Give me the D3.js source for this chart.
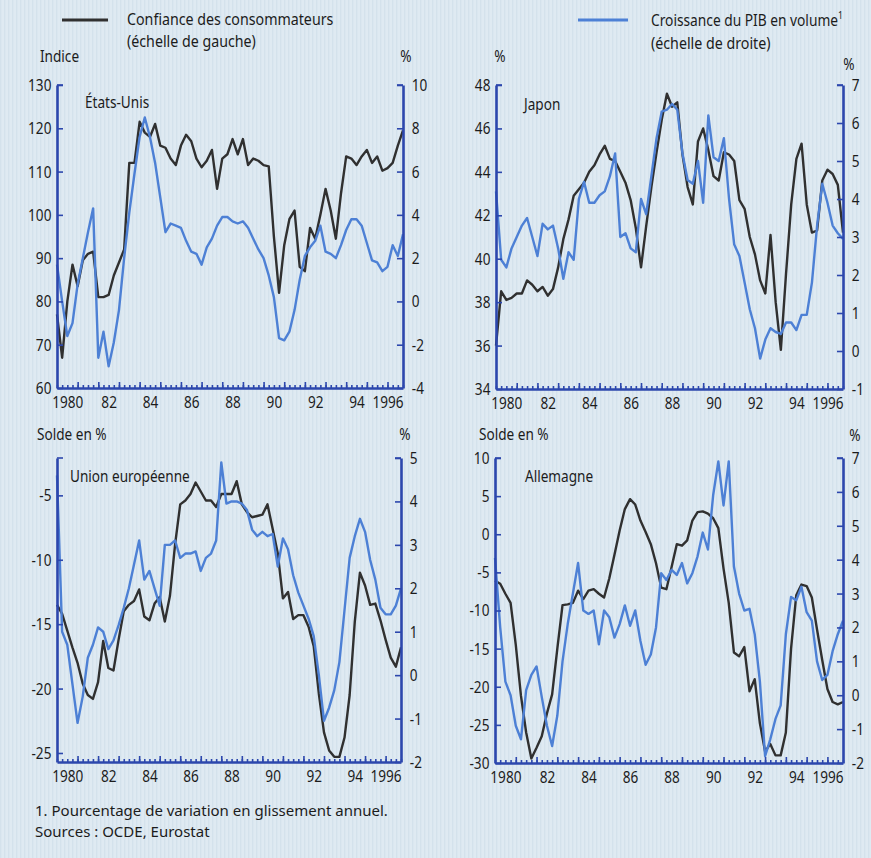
<!DOCTYPE html>
<html>
<head>
<meta charset="utf-8">
<script src="https://cdn.jsdelivr.net/npm/d3@7"></script>
<style>
	body { margin: 0; background: #dde9f1; }
	svg text { font-family: "Noto Sans", "Open Sans", sans-serif; fill: #1c1c1c; }
</style>
</head>
<body>
<svg id="chart"></svg>
<script>
const FIRST_YEAR = 1980;
const LAST_YEAR = 1996.75;
const YEAR_LABELS = ["1980", "82", "84", "86", "88", "90", "92", "94", "1996"];
const YEAR_LABEL_AT = [1980, 1982, 1984, 1986, 1988, 1990, 1992, 1994, 1996];

// Quarterly values, 1980 Q1 to 1996 Q4
const US_CONFIDENCE = [77, 67, 80, 88.5, 83.5, 89.5, 91, 91.5, 81, 81,
	81.5, 86, 89, 92, 112, 112, 121.5, 119, 118, 121,
	116, 115.5, 113, 111.5, 116, 118.5, 117, 113, 111, 112.5,
	115, 106, 113, 114, 117.5, 114, 117.5, 111.5, 113, 112.5,
	111.5, 111.2, 95, 82, 93, 99, 101, 88, 87, 97,
	94.5, 100, 106, 101, 94.5, 105, 113.5, 113, 111.5, 113.5,
	115, 112, 113.5, 110.2, 110.8, 112, 116, 119.5];
const US_GDP = [1.7, 0.0, -1.6, -1.0, 0.8, 2.0, 3.2, 4.3, -2.6, -1.4,
	-3.0, -1.9, -0.4, 2.0, 4.1, 5.9, 7.6, 8.5, 7.6, 6.4,
	4.8, 3.2, 3.6, 3.5, 3.4, 2.8, 2.3, 2.2, 1.7, 2.5,
	2.9, 3.5, 3.9, 3.9, 3.7, 3.6, 3.7, 3.4, 2.9, 2.4,
	2.0, 1.2, 0.2, -1.7, -1.8, -1.4, -0.4, 1.0, 2.1, 2.5,
	2.8, 3.5, 2.3, 2.2, 2.0, 2.6, 3.3, 3.8, 3.8, 3.5,
	2.7, 1.9, 1.8, 1.4, 1.6, 2.6, 2.1, 3.1];

const JP_CONFIDENCE = [36.0, 38.5, 38.1, 38.2, 38.4, 38.4, 39.0, 38.8, 38.5, 38.7,
	38.3, 38.6, 39.6, 40.9, 41.8, 42.9, 43.2, 43.5, 44.0, 44.3,
	44.8, 45.2, 44.6, 44.5, 44.0, 43.5, 42.7, 41.4, 39.6, 41.5,
	43.3, 44.9, 46.4, 47.6, 47.0, 47.2, 44.8, 43.3, 42.5, 45.4,
	46.0, 45.0, 43.8, 43.6, 44.9, 44.8, 44.5, 42.7, 42.3, 41.0,
	40.2, 39.0, 38.4, 41.1, 38.0, 35.8, 39.3, 42.5, 44.6, 45.3,
	42.5, 41.2, 41.3, 43.6, 44.1, 43.9, 43.4, 41.2];
const JP_GDP = [4.2, 2.4, 2.2, 2.7, 3.0, 3.3, 3.5, 3.0, 2.5, 3.35,
	3.2, 3.3, 2.7, 1.9, 2.6, 2.4, 4.0, 4.45, 3.9, 3.9,
	4.1, 4.2, 4.6, 5.2, 3.0, 3.1, 2.7, 2.6, 4.0, 3.6,
	4.6, 5.6, 6.3, 6.35, 6.5, 6.35, 5.2, 4.5, 4.4, 5.0,
	3.9, 6.2, 5.1, 5.0, 5.6, 4.0, 2.8, 2.5, 1.8, 1.1,
	0.6, -0.2, 0.3, 0.6, 0.5, 0.45, 0.75, 0.75, 0.55, 0.95,
	0.95, 1.8, 3.3, 4.4, 3.9, 3.3, 3.1, 2.95];

const EU_CONFIDENCE = [-13.5, -14.2, -15.5, -16.8, -18.0, -19.6, -20.5, -20.8, -19.5, -16.3,
	-18.4, -18.6, -16.2, -14.0, -13.5, -13.2, -12.3, -14.4, -14.7, -13.4,
	-12.9, -14.8, -12.8, -8.8, -5.7, -5.4, -4.9, -4.0, -4.7, -5.4,
	-5.4, -5.9, -4.9, -4.9, -4.9, -3.9, -5.7, -6.3, -6.7, -6.6,
	-6.5, -5.7, -7.6, -9.5, -13.0, -12.5, -14.6, -14.3, -14.3, -15.2,
	-16.7, -20.4, -23.4, -24.8, -25.3, -25.3, -23.8, -20.5, -14.8, -11.0,
	-12.0, -13.5, -13.4, -14.7, -16.2, -17.6, -18.3, -16.8];
const EU_GDP = [4.6, 1.0, 0.7, -0.2, -1.1, -0.5, 0.4, 0.7, 1.1, 1.0,
	0.6, 0.8, 1.15, 1.55, 2.0, 2.55, 3.1, 2.2, 2.4, 2.0,
	1.6, 3.0, 3.0, 3.1, 2.7, 2.8, 2.8, 2.85, 2.4, 2.7,
	2.8, 3.1, 4.9, 3.95, 4.0, 4.0, 3.95, 3.8, 3.35, 3.2,
	3.3, 3.2, 3.25, 2.5, 3.15, 2.9, 2.3, 1.9, 1.6, 1.3,
	0.9, 0.0, -1.05, -0.75, -0.35, 0.3, 1.5, 2.7, 3.2, 3.6,
	3.3, 2.65, 2.2, 1.55, 1.4, 1.4, 1.6, 2.0];

const DE_CONFIDENCE = [-6.1, -6.5, -7.8, -9.0, -14.5, -21.2, -26.0, -29.4, -28.0, -26.5,
	-23.5, -21.0, -15.0, -9.3, -9.2, -9.0, -7.4, -8.5, -7.4, -7.2,
	-7.8, -8.3, -5.8, -2.7, 0.5, 3.3, 4.6, 3.9, 1.8, 0.3,
	-1.3, -3.8, -7.0, -7.2, -4.3, -1.3, -1.5, -0.8, 1.8, 2.9,
	3.0, 2.7, 2.1, 0.8, -4.5, -9.0, -15.5, -16.0, -14.8, -20.6,
	-19.0, -24.8, -28.5, -27.5, -29.0, -29.0, -26.0, -15.0, -8.0, -6.6,
	-6.8, -8.3, -12.5, -16.5, -20.3, -22.0, -22.3, -22.0];
const DE_GDP = [4.05, 2.0, 0.4, 0.0, -0.9, -1.3, 0.15, 0.6, 0.85, -0.05,
	-0.9, -1.5, -0.6, 1.0, 2.1, 3.0, 3.9, 2.5, 2.4, 2.5,
	1.5, 2.5, 2.3, 1.7, 2.1, 2.65, 2.05, 2.5, 1.6, 0.9,
	1.2, 2.0, 3.6, 3.4, 3.7, 3.55, 3.9, 3.3, 3.6, 4.1,
	4.8, 4.3, 5.9, 6.9, 5.6, 6.9, 3.8, 3.0, 2.5, 2.55,
	1.8, 0.4, -1.8, -1.3, -0.7, -0.3, 1.8, 2.9, 2.8, 3.2,
	2.45, 2.2, 1.0, 0.45, 0.6, 1.3, 1.8, 2.2];

const PANEL_TITLES = ["États-Unis", "Japon", "Union européenne", "Allemagne"];
const US_LEFT_TICKS = [60, 70, 80, 90, 100, 110, 120, 130];
const US_RIGHT_TICKS = [-4, -2, 0, 2, 4, 6, 8, 10];
const JP_LEFT_TICKS = [34, 36, 38, 40, 42, 44, 46, 48];
const JP_RIGHT_TICKS = [-1, 0, 1, 2, 3, 4, 5, 6, 7];
const EU_LEFT_TICKS = [-25, -20, -15, -10, -5];
const EU_RIGHT_TICKS = [-2, -1, 0, 1, 2, 3, 4, 5];
const DE_LEFT_TICKS = [-30, -25, -20, -15, -10, -5, 0, 5, 10];
const DE_RIGHT_TICKS = [-2, -1, 0, 1, 2, 3, 4, 5, 6, 7];

const AXIS_COLOR = "#2c47ad";
const CONF_COLOR = "#303030";
const GDP_COLOR = "#4d80d5";
const SQUEEZE = 0.8;	// condensed look for the lettering

var width = 871;
var height = 858;

var svg = d3.select("#chart")
	.attr("width", width)
	.attr("height", height);

// striped paper background
var defs = svg.append("defs");
var pat = defs.append("pattern")
	.attr("id", "stripes")
	.attr("width", 4)
	.attr("height", 8)
	.attr("patternUnits", "userSpaceOnUse");
pat.append("rect").attr("width", 4).attr("height", 8).attr("fill", "#dfeaf2");
pat.append("rect").attr("width", 1.3).attr("height", 8).attr("fill", "#d4e2ec");

svg.append("rect")
	.attr("width", width)
	.attr("height", height)
	.attr("fill", "url(#stripes)");

// text placed at (x, y) then squeezed horizontally
function addText(str, x, y, size, anchor, sx) {
	var holder = svg.append("g")
		.attr("transform", "translate(" + x + "," + y + ") scale(" + (sx || SQUEEZE) + ",1)");
	return holder.append("text")
		.text(str)
		.attr("text-anchor", anchor || "start")
		.style("font-size", size + "px");
}

var panels = [
	{ title: PANEL_TITLES[0], conf: US_CONFIDENCE, gdp: US_GDP, left: [60, 130], right: [-4, 10],
		leftTicks: US_LEFT_TICKS, rightTicks: US_RIGHT_TICKS, x0: 57, x1: 403, y0: 85, y1: 388, tx: 28, ty: 23 },
	{ title: PANEL_TITLES[1], conf: JP_CONFIDENCE, gdp: JP_GDP, left: [34, 48], right: [-1, 7],
		leftTicks: JP_LEFT_TICKS, rightTicks: JP_RIGHT_TICKS, x0: 496, x1: 843, y0: 85, y1: 389, tx: 28, ty: 25 },
	{ title: PANEL_TITLES[2], conf: EU_CONFIDENCE, gdp: EU_GDP, left: [-25.7, -2.1], right: [-2, 5],
		leftTicks: EU_LEFT_TICKS, rightTicks: EU_RIGHT_TICKS, x0: 57, x1: 401, y0: 458, y1: 762, tx: 13, ty: 24 },
	{ title: PANEL_TITLES[3], conf: DE_CONFIDENCE, gdp: DE_GDP, left: [-30, 10], right: [-2, 7],
		leftTicks: DE_LEFT_TICKS, rightTicks: DE_RIGHT_TICKS, x0: 495, x1: 843, y0: 458, y1: 763, tx: 30, ty: 24 },
];

function quarterTime(i) {
	return FIRST_YEAR + i / 4;
}

function drawPanel(p) {
	var g = svg.append("g").attr("class", "panel");

	var scaleTime = d3.scaleLinear()
		.domain([FIRST_YEAR, LAST_YEAR])
		.range([p.x0, p.x1]);
	var scaleLeft = d3.scaleLinear()
		.domain(p.left)
		.range([p.y1, p.y0]);
	var scaleRight = d3.scaleLinear()
		.domain(p.right)
		.range([p.y1, p.y0]);

	var confLine = d3.line()
		.x(function(d, i) { return scaleTime(quarterTime(i)); })
		.y(function(d) { return scaleLeft(d); });
	var gdpLine = d3.line()
		.x(function(d, i) { return scaleTime(quarterTime(i)); })
		.y(function(d) { return scaleRight(d); });

	g.append("path")
		.datum(p.conf)
		.attr("d", confLine)
		.attr("fill", "none")
		.attr("stroke", CONF_COLOR)
		.attr("stroke-width", 2.4)
		.attr("stroke-linejoin", "round");

	g.append("path")
		.datum(p.gdp)
		.attr("d", gdpLine)
		.attr("fill", "none")
		.attr("stroke", GDP_COLOR)
		.attr("stroke-width", 2.4)
		.attr("stroke-linejoin", "round");

	// Left axis, ticks pointing inside
	var leftAxis = g.append("g")
		.attr("transform", "translate(" + p.x0 + ",0)")
		.call(d3.axisLeft(scaleLeft)
			.tickValues(p.leftTicks)
			.tickFormat(function(d) { return String(d); })
			.tickSizeInner(-6)
			.tickSizeOuter(0)
			.tickPadding(7));

	var rightAxis = g.append("g")
		.attr("transform", "translate(" + p.x1 + ",0)")
		.call(d3.axisRight(scaleRight)
			.tickValues(p.rightTicks)
			.tickFormat(function(d) { return String(d); })
			.tickSizeInner(-6)
			.tickSizeOuter(0)
			.tickPadding(11));

	// quarter ticks and year ticks along the bottom
	var quarterAxis = g.append("g")
		.attr("transform", "translate(0," + p.y1 + ")")
		.call(d3.axisBottom(scaleTime)
			.tickValues(d3.range(0, 68).map(quarterTime))
			.tickFormat("")
			.tickSizeInner(-3)
			.tickSizeOuter(0));

	var yearAxis = g.append("g")
		.attr("transform", "translate(0," + p.y1 + ")")
		.call(d3.axisBottom(scaleTime)
			.tickValues(d3.range(1981, 1997))
			.tickFormat("")
			.tickSizeInner(-6)
			.tickSizeOuter(0));
	yearAxis.select(".domain").remove();

	var labelAxis = g.append("g")
		.attr("transform", "translate(0," + p.y1 + ")")
		.call(d3.axisBottom(scaleTime)
			.tickValues(YEAR_LABEL_AT.map(function(y) { return y + 0.5; }))
			.tickFormat(function(d, i) { return YEAR_LABELS[i]; })
			.tickSize(0)
			.tickPadding(8));
	labelAxis.select(".domain").remove();
	// last label sits flush with the right axis
	labelAxis.selectAll(".tick text")
		.filter(function(d, i) { return i === YEAR_LABELS.length - 1; })
		.attr("text-anchor", "end")
		.attr("x", (scaleTime(LAST_YEAR) - scaleTime(1996.5)) / SQUEEZE);

	[leftAxis, rightAxis, quarterAxis, yearAxis].forEach(function(a) {
		a.selectAll("path, line")
			.attr("stroke", AXIS_COLOR)
			.attr("stroke-width", 1.6);
		a.select(".domain").attr("stroke-width", 2.6);
	});
	g.selectAll(".tick text")
		.attr("fill", "#1c1c1c")
		.attr("transform", "scale(" + SQUEEZE + ",1)")
		.style("font-size", "17px");

	// small caps at top of the two vertical axes
	g.append("line")
		.attr("x1", p.x0).attr("x2", p.x0 + 6)
		.attr("y1", p.y0).attr("y2", p.y0)
		.attr("stroke", AXIS_COLOR).attr("stroke-width", 1.6);
	g.append("line")
		.attr("x1", p.x1 - 6).attr("x2", p.x1)
		.attr("y1", p.y0).attr("y2", p.y0)
		.attr("stroke", AXIS_COLOR).attr("stroke-width", 1.6);

	addText(p.title, p.x0 + p.tx, p.y0 + p.ty, 17);
}

panels.forEach(drawPanel);

// Unit labels
addText("Indice", 40, 62, 17);
addText("%", 406, 62, 17, "middle");
addText("%", 500, 62, 17, "middle");
addText("%", 849, 70, 17, "middle");
addText("Solde en %", 37, 440, 17);
addText("%", 405, 440, 17, "middle");
addText("Solde en %", 479, 440, 17);
addText("%", 855, 441, 17, "middle");

// Legend
svg.append("line")
	.attr("x1", 62).attr("x2", 108)
	.attr("y1", 20).attr("y2", 20)
	.attr("stroke", CONF_COLOR).attr("stroke-width", 3);
addText("Confiance des consommateurs", 127, 25, 16, "start", 0.89);
addText("(échelle de gauche)", 127, 47, 16, "start", 0.89);

svg.append("line")
	.attr("x1", 578).attr("x2", 628)
	.attr("y1", 20).attr("y2", 20)
	.attr("stroke", GDP_COLOR).attr("stroke-width", 3);
var gdpLegend = addText("Croissance du PIB en volume", 651, 26, 16, "start", 0.86);
gdpLegend.append("tspan")
	.text("1")
	.attr("dy", -7)
	.style("font-size", "10px");
addText("(échelle de droite)", 651, 49, 16, "start", 0.89);

// Notes
addText("1. Pourcentage de variation en glissement annuel.", 35, 816, 15, "start", 1);
addText("Sources : OCDE, Eurostat", 35, 837, 15, "start", 1);
</script>
</body>
</html>
